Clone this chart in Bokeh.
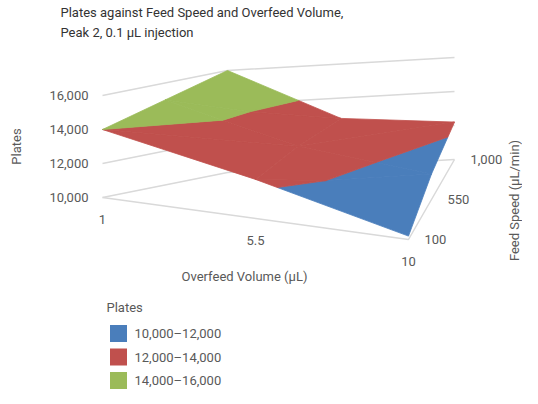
from bokeh.plotting import figure
from bokeh.models import Range1d
from bokeh.core.properties import value
from bokeh.embed import file_html
from bokeh.resources import INLINE

volumes = [1, 5.5, 10]
speeds = [100, 550, 1000]
# plates[speed_index][volume_index]
plates = [
    [14000, 12300, 10200],
    [15000, 12700, 11500],
    [16000, 12800, 12200],
]
bands = [(10000, 12000, "#4a7ebb", "10,000–12,000"),
         (12000, 14000, "#c0504d", "12,000–14,000"),
         (14000, 16000, "#9bbb59", "14,000–16,000")]
z_ticks = [10000, 12000, 14000, 16000]
z_labels = ["10,000", "12,000", "14,000", "16,000"]
vol_labels = ["1", "5.5", "10"]
speed_labels = ["100", "550", "1,000"]

GREY = "#595959"
FONT = value("Roboto")
# floor corners in page pixels: (u, v) -> (x, y)
FL, FR, BL, BR = (110, 205), (416, 247), (235, 180), (462, 167)
PX_PER_PLATE = 34 / 2000


def proj(vol, spd, z):
    u = (vol - volumes[0]) / (volumes[-1] - volumes[0])
    v = (spd - speeds[0]) / (speeds[-1] - speeds[0])
    x = (1-u)*(1-v)*FL[0] + u*(1-v)*FR[0] + (1-u)*v*BL[0] + u*v*BR[0]
    y = (1-u)*(1-v)*FL[1] + u*(1-v)*FR[1] + (1-u)*v*BL[1] + u*v*BR[1]
    return x, y - (z - z_ticks[0]) * PX_PER_PLATE


def clip(poly, lo, keep_above):
    out = []
    n = len(poly)
    for i in range(n):
        a, b = poly[i], poly[(i+1) % n]
        ina = a[2] >= lo if keep_above else a[2] <= lo
        inb = b[2] >= lo if keep_above else b[2] <= lo
        if ina:
            out.append(a)
        if ina != inb:
            t = (lo - a[2]) / (b[2] - a[2])
            out.append(tuple(a[k] + t*(b[k]-a[k]) for k in range(3)))
    return out


p = figure(width=522, height=390, x_range=Range1d(8, 530), y_range=Range1d(398, 8),
           output_backend="svg", toolbar_location=None, min_border=0)
p.axis.visible = False
p.grid.visible = False
p.outline_line_color = None

wall = "#d9d9d9"
for z in z_ticks:
    pts = [proj(volumes[0], speeds[0], z), proj(volumes[0], speeds[-1], z), proj(volumes[-1], speeds[-1], z)]
    p.line([q[0] for q in pts], [q[1] for q in pts], line_color=wall, line_width=1.5)
fl = [proj(volumes[0], speeds[0], z_ticks[0]), proj(volumes[-1], speeds[0], z_ticks[0]),
      proj(volumes[-1], speeds[-1], z_ticks[0])]
p.line([q[0] for q in fl], [q[1] for q in fl], line_color=wall, line_width=1.5)

# surface, split into value bands
for i in range(len(speeds)-1):
    for j in range(len(volumes)-1):
        c = [(volumes[j], speeds[i], plates[i][j]), (volumes[j+1], speeds[i], plates[i][j+1]),
             (volumes[j+1], speeds[i+1], plates[i+1][j+1]), (volumes[j], speeds[i+1], plates[i+1][j])]
        for tri in ([c[0], c[1], c[2]], [c[0], c[2], c[3]]):
            for lo, hi, col, _ in bands:
                poly = clip(tri, lo, True)
                poly = clip(poly, hi, False) if poly else []
                if len(poly) < 3:
                    continue
                pts = [proj(*q) for q in poly]
                p.patch([q[0] for q in pts], [q[1] for q in pts], fill_color=col,
                        line_color=col, line_width=0.8)

tstyle = dict(text_color=GREY, text_font_size="13px", text_font=FONT)
for z, lab in zip(z_ticks, z_labels):
    x, y = proj(volumes[0], speeds[0], z)
    p.text([x-14], [y], text=[lab], text_align="right", text_baseline="middle", **tstyle)
for vol, lab in zip(volumes, vol_labels):
    x, y = proj(vol, speeds[0], z_ticks[0])
    p.text([x], [y+22], text=[lab], text_align="center", text_baseline="middle", **tstyle)
for spd, lab in zip(speeds, speed_labels):
    x, y = proj(volumes[-1], spd, z_ticks[0])
    p.text([x+16], [y], text=[lab], text_align="left", text_baseline="middle", **tstyle)

p.text([24], [154], text=["Plates"], angle=1.5708, text_align="center", text_baseline="middle", **tstyle)
p.text([252], [284], text=["Overfeed Volume (µL)"], text_align="center", text_baseline="middle", **tstyle)
p.text([522], [208], text=["Feed Speed (µL/min)"], angle=1.5708, text_align="center", text_baseline="middle", **tstyle)
p.text([68, 68], [20, 40], text=["Plates against Feed Speed and Overfeed Volume,", "Peak 2, 0.1 µL injection"],
       text_align="left", text_baseline="middle", text_color="#333333", text_font_size="13px", text_font=FONT)

p.text([114], [315], text=["Plates"], text_align="left", text_baseline="middle", **tstyle)
for k, (lo, hi, col, lab) in enumerate(bands):
    y = 341 + 23.5*k
    p.rect([126], [y], width=17, height=17, fill_color=col, line_color=None)
    p.text([142], [y], text=[lab], text_align="left", text_baseline="middle", **tstyle)

open("out.html", "w").write(file_html(p, INLINE))
